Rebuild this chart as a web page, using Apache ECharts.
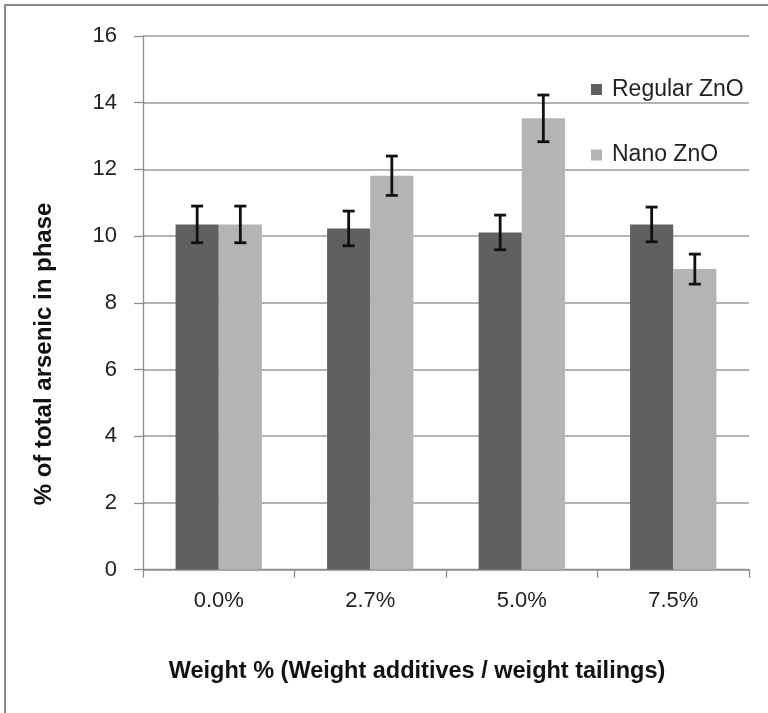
<!DOCTYPE html>
<html>
<head>
<meta charset="utf-8">
<title>Arsenic phase distribution</title>
<script src="https://cdn.jsdelivr.net/npm/echarts@6/dist/echarts.min.js"></script>
<style>
  html, body { margin: 0; padding: 0; background: #fff; }
  #chart { width: 768px; height: 713px; }
</style>
</head>
<body>
<div id="chart"></div>
<script>
// Weight fraction of additive (x categories)
const categories = ['0.0%', '2.7%', '5.0%', '7.5%'];

// % of total arsenic found in the phase
const regularZnO = [10.35, 10.23, 10.11, 10.35];
const nanoZnO = [10.35, 11.81, 13.53, 9.01];

// Standard error for each bar
const regularErr = [0.55, 0.52, 0.52, 0.52];
const nanoErr = [0.55, 0.59, 0.70, 0.45];

const seriesNames = ['Regular ZnO', 'Nano ZnO'];
const yTicks = { min: 0, max: 16, interval: 2 };

const CATEGORY_GAP = 0.43;
const FONT = '"Liberation Sans", Arial, sans-serif';

function errorBars(values, errors) {
  return values.map((v, i) => [i, v, errors[i]]);
}

// Draws a vertical whisker with caps over one bar of a two-bar group
function makeErrorRenderer(side) {
  return function (params, api) {
    const idx = api.value(0);
    const val = api.value(1);
    const err = api.value(2);
    const hi = api.coord([idx, val + err]);
    const lo = api.coord([idx, val - err]);
    const band = api.size([1, 0])[0];
    const barW = band * (1 - CATEGORY_GAP) / 2;
    const x = hi[0] + side * barW / 2;
    const cap = 6;
    const st = { stroke: '#111', lineWidth: 2.8 };
    return {
      type: 'group',
      children: [
        { type: 'line', shape: { x1: x, y1: hi[1], x2: x, y2: lo[1] }, style: st },
        { type: 'line', shape: { x1: x - cap, y1: hi[1], x2: x + cap, y2: hi[1] }, style: st },
        { type: 'line', shape: { x1: x - cap, y1: lo[1], x2: x + cap, y2: lo[1] }, style: st }
      ]
    };
  };
}

const chart = echarts.init(document.getElementById('chart'), null, { renderer: 'canvas' });

chart.setOption({
  animation: false,
  backgroundColor: '#fff',
  textStyle: { fontFamily: FONT },
  grid: { left: 143, right: 19, top: 36, bottom: 143.4, containLabel: false },
  legend: {
    data: seriesNames,
    orient: 'vertical',
    left: 591,
    top: 78,
    itemWidth: 11,
    itemHeight: 11,
    itemGap: 42.5,
    icon: 'rect',
    textStyle: { fontSize: 23, color: '#222', fontFamily: FONT, padding: [0, 0, 0, 5], lineHeight: 22 },
    padding: 0,
    selectedMode: false
  },
  xAxis: {
    type: 'category',
    data: categories,
    axisLine: { lineStyle: { color: '#8c8c8c', width: 1.3 } },
    axisTick: { show: true, length: 8, interval: 0, lineStyle: { color: '#8c8c8c', width: 1.3 } },
    axisLabel: { fontSize: 22, color: '#222', margin: 20, fontFamily: FONT },
    splitLine: { show: false }
  },
  yAxis: {
    type: 'value',
    min: yTicks.min,
    max: yTicks.max,
    interval: yTicks.interval,
    axisLine: { show: true, lineStyle: { color: '#8c8c8c', width: 1.3 } },
    axisTick: { show: true, length: 9, lineStyle: { color: '#8c8c8c', width: 1.3 } },
    axisLabel: { fontSize: 22, color: '#222', margin: 26, fontFamily: FONT },
    splitLine: { show: true, lineStyle: { color: '#9a9a9a', width: 1.5 } }
  },
  series: [
    {
      name: seriesNames[0],
      type: 'bar',
      data: regularZnO,
      itemStyle: { color: '#606060' },
      barGap: '0%',
      barCategoryGap: (CATEGORY_GAP * 100) + '%'
    },
    {
      name: seriesNames[1],
      type: 'bar',
      data: nanoZnO,
      itemStyle: { color: '#b4b4b4' },
      barGap: '0%',
      barCategoryGap: (CATEGORY_GAP * 100) + '%'
    },
    {
      name: 'Regular ZnO error',
      type: 'custom',
      renderItem: makeErrorRenderer(-1),
      data: errorBars(regularZnO, regularErr),
      encode: { x: 0, y: 1 },
      z: 10,
      silent: true
    },
    {
      name: 'Nano ZnO error',
      type: 'custom',
      renderItem: makeErrorRenderer(1),
      data: errorBars(nanoZnO, nanoErr),
      encode: { x: 0, y: 1 },
      z: 10,
      silent: true
    }
  ],
  graphic: [
    {
      type: 'rect',
      z: -10,
      shape: { x: 5, y: 5, width: 1000, height: 1000 },
      style: { fill: 'none', stroke: '#8a8a8a', lineWidth: 2 }
    },
    {
      type: 'text',
      x: 44,
      y: 354,
      rotation: Math.PI / 2,
      style: {
        text: '% of total arsenic in phase',
        x: 0, y: 0,
        align: 'center', verticalAlign: 'middle',
        textAlign: 'center', textVerticalAlign: 'middle',
        font: 'bold 24px ' + FONT,
        fill: '#111'
      }
    },
    {
      type: 'text',
      x: 417,
      y: 672,
      style: {
        text: 'Weight % (Weight additives / weight tailings)',
        x: 0, y: 0,
        align: 'center', verticalAlign: 'middle',
        textAlign: 'center', textVerticalAlign: 'middle',
        font: 'bold 23.5px ' + FONT,
        fill: '#111'
      }
    }
  ]
});
</script>
</body>
</html>
